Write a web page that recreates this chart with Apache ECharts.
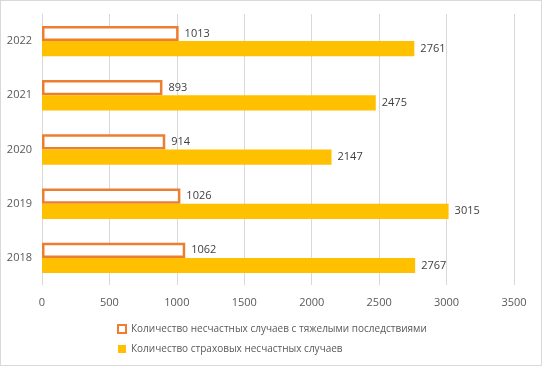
<!DOCTYPE html>
<html>
<head>
<meta charset="utf-8">
<script src="https://cdn.jsdelivr.net/npm/echarts@6/dist/echarts.min.js"></script>
<style>
    html, body { margin: 0; padding: 0; background: #fff; }
    #chart { width: 540px; height: 364px; border: 1px solid #d9d9d9; }
</style>
</head>
<body>
<div id="chart"></div>
<script>
// годы и значения
var years = ['2018', '2019', '2020', '2021', '2022'];
var severeCases = [1062, 1026, 914, 893, 1013];
var insuredCases = [2767, 3015, 2147, 2475, 2761];
var xTicks = { min: 0, max: 3500, interval: 500 };

var severeName = 'Количество несчастных случаев с тяжелыми последствиями';
var insuredName = 'Количество страховых несчастных случаев';

var labelStyle = {
    show: true,
    position: 'right',
    distance: 6,
    color: '#404040',
    fontSize: 11,
    fontFamily: 'Open Sans'
};

var myChart = echarts.init(document.getElementById('chart'));
myChart.setOption({
    animation: false,
    grid: { left: 41, right: 27, top: 13, bottom: 80 },
    legend: {
        orient: 'vertical',
        left: 111,
        top: 318,
        itemGap: 10,
        itemWidth: 8,
        itemHeight: 8,
        icon: 'rect',
        data: [
            { name: severeName, itemStyle: { color: '#fff', borderColor: '#ED7D31', borderWidth: 2 } },
            { name: insuredName }
        ],
        textStyle: { color: '#595959', fontSize: 10, fontFamily: 'Open Sans' }
    },
    xAxis: {
        type: 'value',
        min: xTicks.min,
        max: xTicks.max,
        interval: xTicks.interval,
        axisLine: { show: false },
        axisTick: { show: false },
        splitLine: { lineStyle: { color: '#d9d9d9' } },
        axisLabel: {
            color: '#595959', fontSize: 11, margin: 12, fontFamily: 'Open Sans',
            formatter: function (v) { return String(v); }
        }
    },
    yAxis: {
        type: 'category',
        data: years,
        axisLine: { lineStyle: { color: '#d9d9d9' } },
        axisTick: { show: false },
        axisLabel: { color: '#595959', fontSize: 11, margin: 10, fontFamily: 'Open Sans' }
    },
    series: [{
        name: severeName,
        type: 'bar',
        data: severeCases,
        barGap: '0%',
        barCategoryGap: '44%',
        itemStyle: { color: '#fff', borderColor: '#ED7D31', borderWidth: 2.5 },
        label: labelStyle
    }, {
        name: insuredName,
        type: 'bar',
        data: insuredCases,
        itemStyle: { color: '#FFC000' },
        label: labelStyle
    }]
});
</script>
</body>
</html>
